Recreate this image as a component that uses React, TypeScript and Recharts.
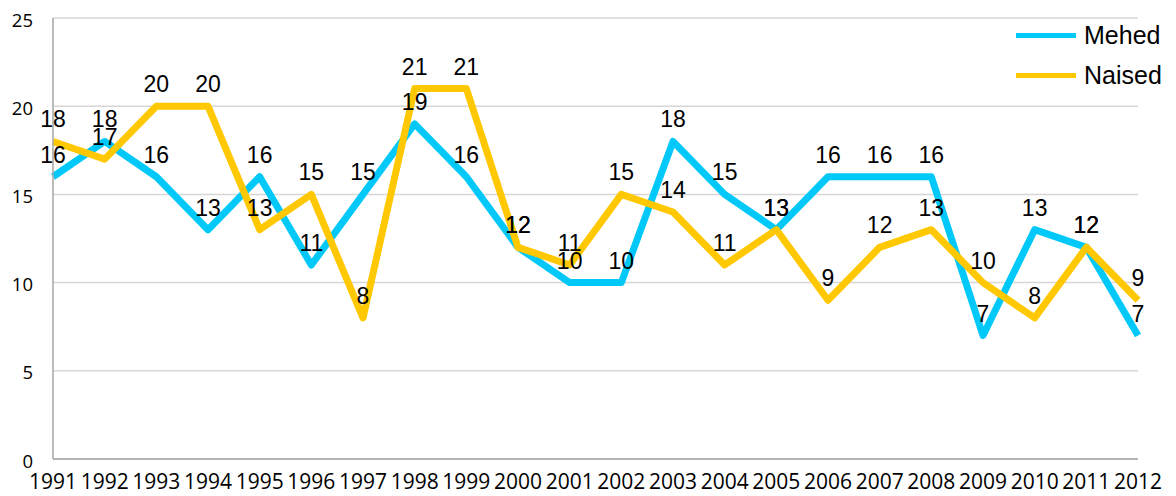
import { LineChart, Line, XAxis, YAxis, CartesianGrid, LabelList, Legend } from "recharts";

/* ── Mehed / Naised 1991–2012 ── */

const years = [
  "1991", "1992", "1993", "1994", "1995", "1996", "1997", "1998", "1999", "2000", "2001",
  "2002", "2003", "2004", "2005", "2006", "2007", "2008", "2009", "2010", "2011", "2012",
];
const mehed = [16, 18, 16, 13, 16, 11, 15, 19, 16, 12, 10, 10, 18, 15, 13, 16, 16, 16, 7, 13, 12, 7];
const naised = [18, 17, 20, 20, 13, 15, 8, 21, 21, 12, 11, 15, 14, 11, 13, 9, 12, 13, 10, 8, 12, 9];
const yTicks = [0, 5, 10, 15, 20, 25];

const MEHED_COLOR = "#00C8F8";
const NAISED_COLOR = "#FFC800";

const legendItems = [
  { name: "Mehed", color: MEHED_COLOR },
  { name: "Naised", color: NAISED_COLOR },
];

const chartData = years.map((year, i) => ({
  year,
  mehed: mehed[i],
  naised: naised[i],
}));

const tickFont = { fontFamily: "'Open Sans', sans-serif", fill: "#000" };
const labelFont = { fontFamily: "'Liberation Sans', Arial, sans-serif", fontSize: 23, fill: "#000" };

function renderLegend() {
  return (
    <div style={{ fontFamily: "'Liberation Sans', Arial, sans-serif", fontSize: 25, color: "#000" }}>
      {legendItems.map((item) => (
        <div key={item.name} style={{ display: "flex", alignItems: "center", height: 40 }}>
          <div style={{ width: 60, height: 5, background: item.color, marginRight: 8 }} />
          <span>{item.name}</span>
        </div>
      ))}
    </div>
  );
}

export default function App() {
  return (
    <div style={{ position: "absolute", left: 0, top: 0, width: 1176, height: 496, background: "#fff" }}>
      <LineChart width={1176} height={496} data={chartData} margin={{ top: 18, right: 38, left: 0, bottom: 0 }}>
        <CartesianGrid vertical={false} stroke="#D6D6D6" strokeWidth={1.5} />
        <XAxis
          dataKey="year"
          interval={0}
          height={37}
          tickSize={0}
          tickMargin={15}
          tick={{ ...tickFont, fontSize: 21 }}
          axisLine={{ stroke: "#A6A6A6", strokeWidth: 1.5 }}
          tickLine={false}
        />
        <YAxis
          domain={[0, 25]}
          ticks={yTicks}
          width={53}
          tickSize={0}
          tickMargin={20}
          tick={{ ...tickFont, fontSize: 18.5, dy: 2 }}
          axisLine={{ stroke: "#A6A6A6", strokeWidth: 1.5 }}
          tickLine={false}
        />
        <Legend
          layout="vertical"
          align="center"
          verticalAlign="middle"
          content={renderLegend}
          wrapperStyle={{ left: 1016, top: 15, width: 160, height: 80 }}
        />
        <Line
          type="linear"
          dataKey="mehed"
          stroke={MEHED_COLOR}
          strokeWidth={7}
          strokeLinejoin="round"
          dot={false}
          activeDot={false}
          isAnimationActive={false}
          name="Mehed"
        />
        <Line
          type="linear"
          dataKey="naised"
          stroke={NAISED_COLOR}
          strokeWidth={7}
          strokeLinejoin="round"
          dot={false}
          activeDot={false}
          isAnimationActive={false}
          name="Naised"
        />
        {/* label-only series so the numbers sit on top of both lines */}
        <Line dataKey="mehed" stroke="none" dot={false} activeDot={false} legendType="none" isAnimationActive={false}>
          <LabelList dataKey="mehed" position="top" offset={14} style={labelFont} />
        </Line>
        <Line dataKey="naised" stroke="none" dot={false} activeDot={false} legendType="none" isAnimationActive={false}>
          <LabelList dataKey="naised" position="top" offset={14} style={labelFont} />
        </Line>
      </LineChart>
    </div>
  );
}
